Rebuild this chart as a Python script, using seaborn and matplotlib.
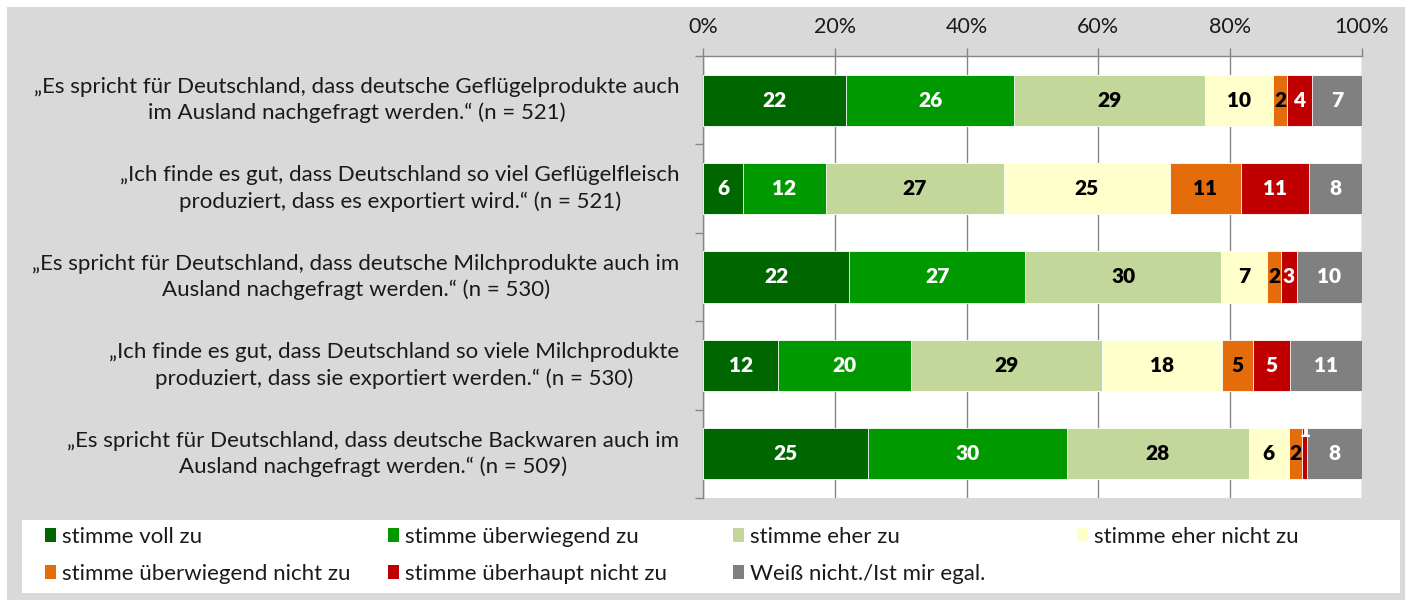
import numpy as np
import pandas as pd
import matplotlib
matplotlib.use("Agg")
import matplotlib.pyplot as plt
import seaborn as sns
from matplotlib.patches import Rectangle, Patch

# ---------------- data ----------------
statements = [
    "„Es spricht für Deutschland, dass deutsche Geflügelprodukte auch\nim Ausland nachgefragt werden.“ (n = 521)",
    "„Ich finde es gut, dass Deutschland so viel Geflügelfleisch\nproduziert, dass es exportiert wird.“ (n = 521)",
    "„Es spricht für Deutschland, dass deutsche Milchprodukte auch im\nAusland nachgefragt werden.“ (n = 530)",
    "„Ich finde es gut, dass Deutschland so viele Milchprodukte\nproduziert, dass sie exportiert werden.“ (n = 530)",
    "„Es spricht für Deutschland, dass deutsche Backwaren auch im\nAusland nachgefragt werden.“ (n = 509)",
]
categories = [
    "stimme voll zu",
    "stimme überwiegend zu",
    "stimme eher zu",
    "stimme eher nicht zu",
    "stimme überwiegend nicht zu",
    "stimme überhaupt nicht zu",
    "Weiß nicht./Ist mir egal.",
]
voll = [21.7, 6.1, 22.2, 11.4, 25.0]
ueberwiegend = [25.5, 12.5, 26.7, 20.2, 30.2]
eher = [29.0, 27.0, 29.7, 29.0, 27.6]
eher_nicht = [10.3, 25.2, 7.0, 18.2, 6.1]
ueberwiegend_nicht = [2.1, 10.8, 2.1, 4.6, 2.0]
ueberhaupt_nicht = [3.8, 10.4, 2.4, 5.6, 0.8]
weiss_nicht = [7.6, 8.0, 9.9, 11.0, 8.3]

lab_voll = [22, 6, 22, 12, 25]
lab_ueberwiegend = [26, 12, 27, 20, 30]
lab_eher = [29, 27, 30, 29, 28]
lab_eher_nicht = [10, 25, 7, 18, 6]
lab_ueberwiegend_nicht = [2, 11, 2, 5, 2]
lab_ueberhaupt_nicht = [4, 11, 3, 5, 1]
lab_weiss_nicht = [7, 8, 10, 11, 8]

ticks = [0, 20, 40, 60, 80, 100]
tick_labels = ["0%", "20%", "40%", "60%", "80%", "100%"]

series = [voll, ueberwiegend, eher, eher_nicht, ueberwiegend_nicht, ueberhaupt_nicht, weiss_nicht]
labels = [lab_voll, lab_ueberwiegend, lab_eher, lab_eher_nicht, lab_ueberwiegend_nicht,
          lab_ueberhaupt_nicht, lab_weiss_nicht]

colors = ["#006600", "#009900", "#c4d79b", "#ffffcc", "#e46c0a", "#c00000", "#808080"]
text_colors = ["white", "white", "black", "black", "black", "white", "white"]

# ---------------- style ----------------
sns.set_theme(style="white")
plt.rcParams["font.family"] = ["Lato", "DejaVu Sans"]

W, H = 1409, 600
fig = plt.figure(figsize=(W / 100, H / 100), dpi=100, facecolor="white")
fig.patches.append(Rectangle((7 / W, 0), 1398 / W, 593 / H, transform=fig.transFigure,
                             facecolor="#d9d9d9", edgecolor="none", zorder=-2))
fig.patches.append(Rectangle((22 / W, 1 - 593 / H), 1378 / W, 73 / H, transform=fig.transFigure,
                             facecolor="white", edgecolor="none", zorder=-1))

ax = fig.add_axes([703 / W, 1 - 498 / H, 659 / W, 442 / H])
ax.set_zorder(2)
ax.set_facecolor("white")

df = pd.DataFrame({"statement": statements})
for name, vals in zip(categories, series):
    df[name] = vals
cum = df[categories].cumsum(axis=1)

for k in reversed(range(len(categories))):
    sns.barplot(x=cum[categories[k]], y=df["statement"], orient="h", color=colors[k],
                saturation=1, width=0.58, errorbar=None, edgecolor="white",
                linewidth=0.6, ax=ax, zorder=3)

for k, cat in enumerate(categories):
    for i in range(len(statements)):
        v = df.loc[i, cat]
        xc = cum.loc[i, cat] - v / 2
        yc = i
        if v < 1.5:
            yc = i - 0.26
        ax.text(xc, yc, str(labels[k][i]), ha="center", va="center", color=text_colors[k],
                fontsize=15, fontweight="heavy", zorder=5)

ax.set_xlim(0, 100)
ax.set_ylim(4.5, -0.5)
ax.set_xlabel("")
ax.set_ylabel("")
ax.xaxis.tick_top()
ax.set_xticks(ticks)
ax.set_xticklabels(tick_labels, fontsize=15.5, color="#1a1a1a")
ax.tick_params(axis="x", which="major", direction="out", length=5.8, width=1,
               color="#868686", pad=8, top=True, bottom=False)
ax.grid(axis="x", color="#868686", linewidth=1, zorder=1)
ax.grid(axis="y", visible=False)
ax.set_axisbelow(True)

ax.set_yticks(range(len(statements)))
ax.set_yticklabels(statements, fontsize=16, color="#1a1a1a", multialignment="center",
                   linespacing=1.35, va="center")
ax.set_yticks(np.arange(-0.5, len(statements), 1.0), minor=True)
ax.tick_params(axis="y", which="major", length=0, pad=17, left=True)
ax.tick_params(axis="y", which="minor", length=5.8, width=1, color="#868686", left=True)

for s in ["right", "bottom"]:
    ax.spines[s].set_visible(False)
for s in ["top", "left"]:
    ax.spines[s].set_color("#868686")
    ax.spines[s].set_linewidth(1)

# ---------------- legend (4 equal columns) ----------------
handles = [Patch(facecolor=c, edgecolor="none") for c in colors]
columns = [[0, 4], [1, 5], [2, 6], [3]]
col_x = [45, 388, 733, 1077]
for cols, x in zip(columns, col_x):
    leg = fig.legend([handles[j] for j in cols], [categories[j] for j in cols],
                     loc="upper left", bbox_to_anchor=(x / W, 1 - 527 / H),
                     bbox_transform=fig.transFigure, frameon=False, fontsize=16,
                     borderpad=0, borderaxespad=0, handlelength=0.5, handleheight=0.6,
                     handletextpad=0.25, labelspacing=0.75)
    for t in leg.get_texts():
        t.set_color("#1a1a1a")
    leg.set_zorder(5)

fig.savefig("out.png", dpi=100, facecolor=fig.get_facecolor())
